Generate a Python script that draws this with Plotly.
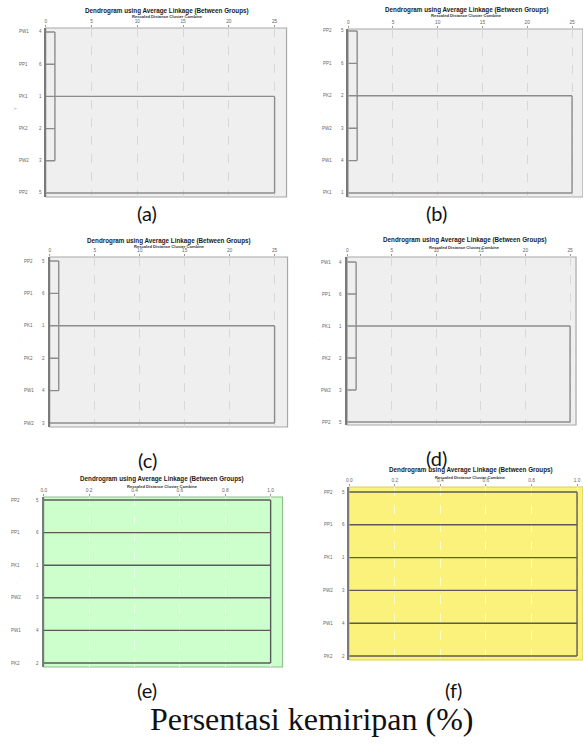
import plotly.graph_objects as go

W, H = 583, 744

# ---------------- data ----------------
panel_tags = ["(a)", "(b)", "(c)", "(d)", "(e)", "(f)"]
labels_a = ["PW1", "PP1", "PK1", "PK2", "PW2", "PP2"]
cases_a = [4, 6, 1, 2, 3, 5]
labels_b = ["PP2", "PP1", "PK2", "PW2", "PW1", "PK1"]
cases_b = [5, 6, 2, 3, 4, 1]
labels_c = ["PP2", "PP1", "PK1", "PK2", "PW1", "PW2"]
cases_c = [5, 6, 1, 2, 4, 3]
labels_d = ["PW1", "PP1", "PK1", "PK2", "PW2", "PP2"]
cases_d = [4, 6, 1, 2, 3, 5]
labels_e = ["PP2", "PP1", "PK1", "PW2", "PW1", "PK2"]
cases_e = [5, 6, 1, 3, 4, 2]
labels_f = ["PP2", "PP1", "PK1", "PW2", "PW1", "PK2"]
cases_f = [5, 6, 1, 3, 4, 2]
first_cluster_size = [5, 5, 5, 5, 6, 6]
first_merge = [1, 1, 1, 1, 1.0, 1.0]
final_merge = [25, 25, 25, 25, None, None]
ticks_25 = [0, 5, 10, 15, 20, 25]
ticks_1 = [0.0, 0.2, 0.4, 0.6, 0.8, 1.0]
ticks_1_text = ["0.0", "0.2", "0.4", "0.6", "0.8", "1.0"]
title_text = "Dendrogram using Average Linkage (Between Groups)"
subtitle_text = "Rescaled Distance Cluster Combine"
caption_text = "Persentasi kemiripan (%)"

labels_all = [labels_a, labels_b, labels_c, labels_d, labels_e, labels_f]
cases_all = [cases_a, cases_b, cases_c, cases_d, cases_e, cases_f]

# ---------------- geometry / style (pixels) ----------------
geo = [
    dict(l=43, r=285, t=28, b=197, te=273, r0=32, r5=193, tx=165, ty=11, sy=16.5, nx=21, cx=41, tag=(145, 213), yl=(13, 108)),
    dict(l=347, r=583, t=29, b=197, te=572, r0=31, r5=193, tx=466, ty=10, sy=16, nx=326, cx=345, tag=(436, 213), yl=(320, 113)),
    dict(l=47, r=286, t=257, b=427, te=273, r0=261, r5=423, tx=167, ty=241, sy=246.5, nx=26, cx=44, tag=(145, 460), yl=(17, 342)),
    dict(l=346, r=576, t=257, b=425, te=570, r0=262, r5=422, tx=464, ty=240, sy=247, nx=325, cx=343, tag=(436, 458), yl=(318, 341)),
    dict(l=41, r=281, t=497, b=667, te=269, r0=500, r5=663, tx=160, ty=479, sy=486, nx=13, cx=38, tag=(145, 690), yl=(13, 583)),
    dict(l=348, r=584, t=487, b=660, te=578, r0=492, r5=656, tx=470, ty=470, sy=477, nx=327, cx=346, tag=(453, 690), yl=None),
]
bg = ["#efefef", "#efefef", "#efefef", "#efefef", "#ccffcc", "#faf27a"]
border = ["#a8a8a8", "#a8a8a8", "#a8a8a8", "#a8a8a8", "#8cc08c", "#d8d060"]
gridc = ["#d8d8d8", "#d8d8d8", "#d8d8d8", "#d8d8d8", "#e6ffe6", "#fffcc8"]
linec = ["#8c8c8c", "#8c8c8c", "#8c8c8c", "#8c8c8c", "#5a5a5a", "#5a5a5a"]


def px(x):
    return x / W


def py(y):
    return 1 - y / H


fig = go.Figure()
annotations = []
shapes = []
layout_axes = {}

for k in range(6):
    g = geo[k]
    labels = labels_all[k]
    cases = cases_all[k]
    n = len(labels)
    idx = k + 1
    xa = "x" if idx == 1 else f"x{idx}"
    ya = "y" if idx == 1 else f"y{idx}"
    xname = "xaxis" if idx == 1 else f"xaxis{idx}"
    yname = "yaxis" if idx == 1 else f"yaxis{idx}"

    small = final_merge[k] is not None
    tvals = ticks_25 if small else ticks_1
    ttext = [str(v) for v in ticks_25] if small else ticks_1_text
    tmax = tvals[-1]
    xmax = tmax * (g["r"] - g["l"]) / (g["te"] - g["l"])
    step = (g["r5"] - g["r0"]) / (n - 1)
    ytop = -(g["r0"] - g["t"]) / step
    ybot = (n - 1) + (g["b"] - g["r5"]) / step

    # dendrogram segments built from the data
    xs, ys = [], []
    cs = first_cluster_size[k]
    d1 = first_merge[k]
    for i in range(cs):
        xs += [0, d1, None]
        ys += [i, i, None]
    xs += [d1, d1, None]
    ys += [0, cs - 1, None]
    if small:
        d2 = final_merge[k]
        mid = (cs - 1) / 2
        xs += [d1, d2, None, d2, d2, None, 0, d2, None]
        ys += [mid, mid, None, mid, n - 1, None, n - 1, n - 1, None]

    fig.add_trace(go.Scatter(x=xs, y=ys, mode="lines", xaxis=xa, yaxis=ya,
                             line=dict(color=linec[k], width=1.4),
                             hoverinfo="skip", showlegend=False))

    layout_axes[xname] = dict(
        domain=[px(g["l"]), min(1.0, px(g["r"]))], anchor=ya, range=[0, xmax],
        side="top", tickvals=tvals, ticktext=ttext,
        tickfont=dict(family="Liberation Sans", size=4.8, color="#666"),
        ticks="outside", ticklen=2, tickcolor="#999", tickwidth=0.8,
        showgrid=True, gridcolor=gridc[k], griddash="dash", gridwidth=0.8,
        zeroline=False, showline=False, fixedrange=True,
    )
    layout_axes[yname] = dict(
        domain=[py(g["b"]), py(g["t"])], anchor=xa, range=[ybot, ytop],
        showticklabels=False, showgrid=False, zeroline=False,
        showline=True, linecolor="#7a7a7a", linewidth=1.6, fixedrange=True,
    )

    # panel background + frame
    shapes.append(dict(type="rect", xref=f"{xa} domain", yref=f"{ya} domain",
                       x0=0, x1=1, y0=0, y1=1, fillcolor=bg[k],
                       line=dict(color=border[k], width=1.2), layer="below"))

    # row labels and case numbers
    for i in range(n):
        annotations.append(dict(x=px(g["nx"]), y=i, xref="paper", yref=ya,
                                text=labels[i], showarrow=False,
                                font=dict(family="Liberation Sans", size=4.5, color="#666"),
                                xanchor="center", yanchor="middle"))
        annotations.append(dict(x=px(g["cx"]), y=i, xref="paper", yref=ya,
                                text=str(cases[i]), showarrow=False,
                                font=dict(family="Liberation Sans", size=4.5, color="#666"),
                                xanchor="right", yanchor="middle"))

    # titles
    annotations.append(dict(x=px(g["tx"]), y=py(g["ty"]), xref="paper", yref="paper",
                            text="<b>" + title_text + "</b>", showarrow=False,
                            font=dict(family="Liberation Sans", size=6.3, color="#1a1a1a"),
                            xanchor="center", yanchor="middle"))
    annotations.append(dict(x=px(g["tx"]), y=py(g["sy"]), xref="paper", yref="paper",
                            text="<b>" + subtitle_text + "</b>", showarrow=False,
                            font=dict(family="Liberation Sans", size=4.1, color="#333"),
                            xanchor="center", yanchor="middle"))
    # panel tag
    annotations.append(dict(x=px(g["tag"][0]), y=py(g["tag"][1]), xref="paper", yref="paper",
                            text=panel_tags[k], showarrow=False,
                            font=dict(family="Lato", size=20, color="#111"),
                            xanchor="center", yanchor="middle"))
    if g["yl"] is not None:
        annotations.append(dict(x=px(g["yl"][0]), y=py(g["yl"][1]), xref="paper", yref="paper",
                                text="Y" if k == 0 else "·", showarrow=False, textangle=-90,
                                font=dict(family="Liberation Sans", size=4, color="#777"),
                                xanchor="center", yanchor="middle"))

annotations.append(dict(x=px(310), y=py(719), xref="paper", yref="paper",
                        text=caption_text, showarrow=False,
                        font=dict(family="Liberation Serif", size=32, color="#111"),
                        xanchor="center", yanchor="middle"))

fig.update_layout(
    width=W, height=H, margin=dict(l=0, r=0, t=0, b=0),
    paper_bgcolor="white", plot_bgcolor="rgba(0,0,0,0)",
    showlegend=False, annotations=annotations, shapes=shapes,
    **layout_axes,
)

fig.write_html("out.html", config={"displayModeBar": False},
               post_script="document.body.style.margin='0';document.body.style.overflow='hidden';")
